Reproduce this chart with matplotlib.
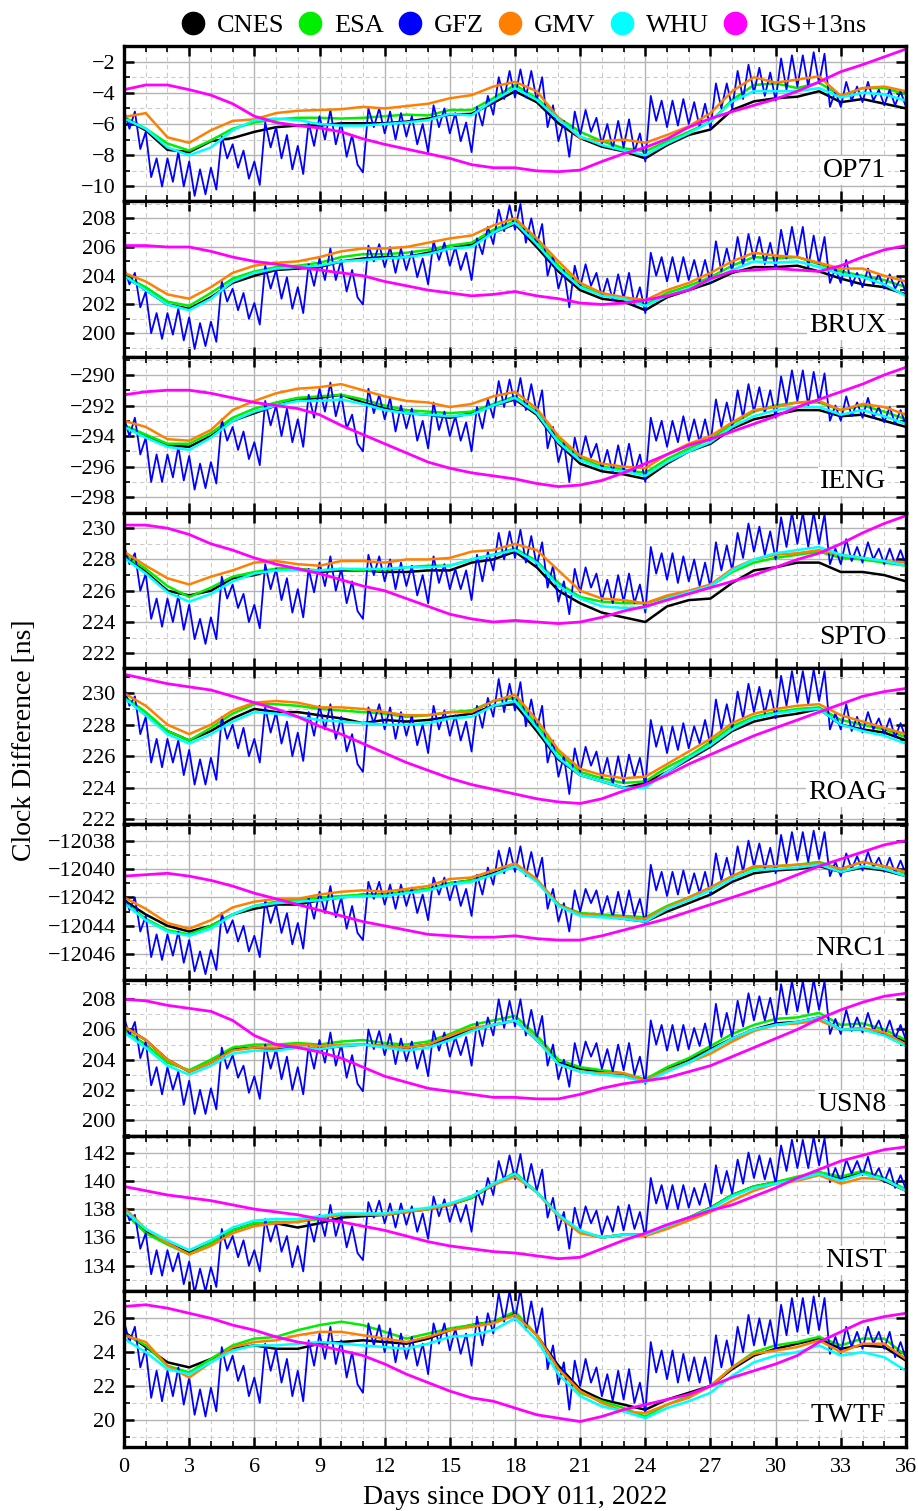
import numpy as np
import matplotlib.pyplot as plt
from matplotlib.ticker import MultipleLocator
from matplotlib.lines import Line2D

plt.rcParams['font.family'] = ['Liberation Serif', 'DejaVu Serif']
plt.rcParams['axes.unicode_minus'] = True

# Daily readings (day 0..36) for the smooth products, 6-hourly readings for GFZ

# ---- OP71 ----
op71_cnes = [-5.65, -6.4, -7.65, -7.8, -7.1, -6.9, -6.5, -6.2, -6.1, -6.1, -5.95, -5.95, -5.95, -5.85, -5.65, -5.4, -5.35, -4.65, -3.9,
             -4.6, -5.95, -6.9, -7.45, -7.75, -8.2, -7.35, -6.7, -6.35, -5.1, -4.55, -4.35, -4.25, -3.9, -4.6, -4.4, -4.7, -5.0]
op71_esa = [-5.55, -6.3, -7.25, -7.7, -7.05, -6.3, -5.9, -5.7, -5.6, -5.6, -5.65, -5.6, -5.5, -5.4, -5.45, -5.1, -5.1, -4.35, -3.5,
            -4.35, -5.6, -6.5, -7.1, -7.55, -7.75, -7.1, -6.5, -5.85, -4.45, -3.5, -3.4, -3.7, -3.35, -4.2, -3.7, -3.7, -4.1]
op71_gmv = [-5.55, -5.3, -6.85, -7.2, -6.4, -5.8, -5.7, -5.3, -5.15, -5.1, -5.05, -4.9, -5.0, -4.85, -4.7, -4.35, -4.15, -3.6, -3.3,
            -3.9, -5.6, -6.9, -7.1, -7.0, -7.2, -6.7, -6.15, -5.3, -3.9, -3.0, -3.35, -3.15, -2.95, -4.2, -3.7, -3.6, -3.9]
op71_whu = [-5.65, -6.3, -7.5, -8.0, -7.5, -6.4, -5.75, -5.65, -5.75, -6.0, -6.1, -6.1, -6.0, -5.9, -5.75, -5.35, -5.45, -4.5, -3.7,
            -4.45, -5.7, -6.8, -7.35, -7.7, -8.0, -7.25, -6.6, -5.85, -4.55, -3.9, -3.9, -3.9, -3.7, -4.3, -4.0, -4.1, -4.5]
op71_igs = [-3.8, -3.5, -3.5, -3.8, -4.15, -4.7, -5.5, -5.9, -6.1, -6.25, -6.5, -6.95, -7.3, -7.6, -7.9, -8.2, -8.6, -8.8, -8.8,
            -9.0, -9.05, -8.95, -8.4, -7.9, -7.5, -6.95, -6.2, -5.65, -5.2, -4.8, -4.4, -3.9, -3.3, -2.65, -2.2, -1.7, -1.2]
op71_gfz = [-5.1, -6.3,
            -5.2, -7.6, -6.5, -9.4, -8.2, -10.0, -8.2, -9.7, -7.8, -10.0, -8.4, -10.6, -8.9, -10.5, -8.8, -10.2,
            -6.8, -8.2, -7.3, -8.8, -7.7, -9.5, -8.4, -9.9, -5.9, -7.5, -6.2, -8.2, -6.7, -8.9, -7.4, -9.2,
            -5.9, -7.4, -5.5, -7.0, -5.1, -7.3, -5.9, -8.1, -6.7, -8.6, -9.1, -5.0, -6.2, -5.0, -6.6, -5.2,
            -7.0, -5.3, -6.8, -5.5, -7.3, -6.0, -7.8, -4.8, -6.2, -5.0, -6.6, -5.3, -7.1, -5.9, -7.8, -4.9,
            -6.1, -4.2, -5.4, -3.0, -4.4, -2.6, -4.3, -2.5, -4.3, -2.6, -4.5, -3.0, -6.2, -4.8, -7.1, -5.8,
            -8.1, -5.2, -6.7, -5.1, -6.5, -5.6, -7.3, -6.0, -7.6, -5.8, -7.5, -5.7, -7.8, -6.6, -8.4, -4.2,
            -5.8, -4.5, -6.2, -4.5, -6.1, -4.4, -6.0, -4.6, -6.2, -4.7, -6.3, -3.4, -5.0, -3.4, -5.0, -2.6,
            -4.4, -2.2, -4.0, -2.4, -4.2, -2.7, -4.5, -1.8, -3.8, -1.6, -3.6, -1.6, -3.6, -1.4, -3.4, -1.5,
            -4.9, -3.9, -4.9, -3.3, -4.5, -3.6, -4.6, -3.3, -4.5, -3.8, -4.8, -3.8, -4.8, -3.9, -4.9]

# ---- BRUX ----
brux_cnes = [204.0, 203.0, 202.0, 201.7, 202.5, 203.5, 204.0, 204.4, 204.5, 204.6, 205.0, 205.2, 205.3, 205.3, 205.6, 205.9, 206.2, 207.0, 207.6,
             206.0, 204.3, 203.0, 202.4, 202.2, 201.6, 202.5, 203.0, 203.5, 204.2, 204.6, 204.6, 204.7, 204.3, 203.8, 203.4, 203.2, 202.7]
brux_esa = [204.0, 203.2, 202.2, 201.9, 202.8, 203.8, 204.3, 204.6, 204.7, 204.9, 205.3, 205.5, 205.5, 205.6, 205.8, 206.1, 206.3, 207.2, 207.8,
            206.4, 204.7, 203.3, 202.7, 202.4, 202.0, 202.8, 203.3, 203.9, 204.7, 205.3, 205.2, 205.3, 204.8, 204.3, 204.0, 203.7, 203.2]
brux_gmv = [204.2, 203.6, 202.7, 202.4, 203.2, 204.2, 204.7, 204.9, 205.0, 205.3, 205.7, 205.9, 205.9, 206.0, 206.3, 206.6, 206.8, 207.5, 208.0,
            206.6, 205.0, 203.5, 202.8, 202.5, 202.3, 203.0, 203.5, 204.2, 205.0, 205.6, 205.4, 205.3, 204.9, 204.5, 204.5, 204.0, 203.6]
brux_whu = [204.0, 203.0, 202.0, 201.6, 202.4, 203.6, 204.2, 204.5, 204.6, 204.7, 205.0, 205.1, 205.2, 205.3, 205.5, 205.9, 206.0, 207.0, 207.7,
            206.2, 204.5, 203.2, 202.6, 202.4, 201.9, 202.6, 203.1, 203.7, 204.4, 205.0, 204.9, 205.0, 204.6, 204.1, 203.9, 203.4, 202.6]
brux_igs = [206.1, 206.1, 206.0, 206.0, 205.7, 205.3, 205.0, 204.8, 204.6, 204.4, 204.2, 204.0, 203.6, 203.3, 203.0, 202.8, 202.6, 202.7, 202.9,
            202.6, 202.4, 202.1, 202.0, 202.1, 202.3, 202.6, 203.0, 203.8, 204.3, 204.4, 204.5, 204.4, 204.3, 204.7, 205.3, 205.8, 206.1]
brux_gfz = [204.6, 203.4,
            204.2, 201.8, 202.9, 200.0, 201.4, 199.6, 201.4, 199.9, 201.7, 199.5, 201.1, 198.9, 200.7, 199.1, 200.8, 199.4,
            203.6, 202.2, 203.1, 201.6, 202.8, 201.0, 202.1, 200.6, 204.7, 203.1, 204.4, 202.4, 203.9, 201.7, 203.2, 201.4,
            204.8, 203.3, 205.2, 203.7, 205.9, 203.7, 205.1, 202.9, 204.4, 202.5, 202.0, 206.1, 205.0, 206.2, 204.6, 206.0,
            204.2, 205.9, 204.4, 205.7, 203.9, 205.2, 203.4, 206.4, 205.1, 206.3, 204.7, 206.0, 204.4, 205.6, 203.7, 206.6,
            205.5, 207.4, 206.2, 208.6, 207.1, 208.9, 207.2, 209.0, 206.3, 208.0, 206.1, 207.6, 204.0, 205.4, 203.1, 204.4,
            201.8, 204.7, 203.2, 204.8, 203.3, 204.2, 202.5, 203.8, 202.3, 204.1, 202.4, 204.2, 202.0, 203.2, 201.4, 205.6,
            204.0, 205.3, 203.6, 205.3, 203.6, 205.3, 203.7, 205.1, 203.6, 205.1, 203.5, 206.4, 204.3, 205.9, 204.3, 206.7,
            204.7, 206.9, 205.1, 206.7, 204.8, 206.3, 204.5, 207.2, 205.2, 207.4, 205.4, 207.4, 204.6, 206.8, 204.8, 206.7,
            203.5, 204.5, 203.5, 205.1, 203.3, 204.2, 203.2, 204.5, 203.4, 204.1, 203.1, 204.1, 203.1, 203.8, 202.8]

# ---- IENG ----
ieng_cnes = [-293.3, -294.0, -294.6, -294.7, -294.0, -293.0, -292.5, -292.0, -291.6, -291.5, -291.3, -291.8, -292.2, -292.5, -292.6, -292.8, -292.5,
             -292.0, -291.6, -292.6, -294.5, -295.8, -296.3, -296.5, -296.8, -295.8, -295.0, -294.5, -293.5, -292.9, -292.6, -292.3, -292.3,
             -292.7, -292.6, -293.0, -293.4]
ieng_esa = [-293.3, -293.9, -294.5, -294.5, -293.8, -292.8, -292.2, -291.8, -291.5, -291.4, -291.3, -291.6, -292.0, -292.3, -292.4, -292.5, -292.4,
            -291.9, -291.4, -292.4, -294.2, -295.4, -296.0, -296.2, -296.4, -295.5, -294.8, -294.2, -293.2, -292.4, -292.0, -291.8, -291.8,
            -292.3, -292.0, -292.4, -292.9]
ieng_gmv = [-293.0, -293.4, -294.2, -294.3, -293.6, -292.3, -291.7, -291.2, -290.9, -290.8, -290.6, -291.0, -291.4, -291.7, -291.8, -292.1, -291.9,
            -291.4, -291.1, -292.2, -294.0, -295.3, -295.8, -296.0, -296.1, -295.2, -294.5, -294.0, -293.1, -292.3, -292.1, -291.8, -291.7,
            -292.3, -291.9, -292.1, -292.6]
ieng_whu = [-293.4, -294.1, -294.7, -294.9, -294.1, -293.0, -292.4, -292.0, -291.7, -291.7, -291.6, -291.9, -292.3, -292.5, -292.6, -292.7, -292.6,
            -292.0, -291.5, -292.5, -294.4, -295.6, -296.1, -296.3, -296.6, -295.7, -295.0, -294.4, -293.4, -292.7, -292.3, -292.1, -292.1,
            -292.6, -292.3, -292.7, -293.2]
ieng_igs = [-291.3, -291.1, -291.0, -291.0, -291.2, -291.5, -291.8, -292.0, -292.2, -292.6, -293.3, -293.9, -294.5, -295.1, -295.7, -296.1, -296.4,
            -296.6, -296.8, -297.1, -297.3, -297.2, -296.9, -296.4, -295.8, -295.2, -294.6, -294.2, -293.7, -293.2, -292.7, -292.1, -291.6,
            -291.1, -290.6, -290.0, -289.5]
ieng_gfz = [-292.8, -294.0,
            -292.8, -295.2, -294.1, -297.0, -295.2, -297.0, -295.2, -296.7, -294.7, -296.9, -295.3, -297.5, -295.8, -297.4, -295.7, -297.1,
            -292.9, -294.3, -293.4, -294.9, -293.7, -295.5, -294.4, -295.9, -291.7, -293.3, -292.0, -294.0, -292.2, -294.4, -292.9, -294.7,
            -291.3, -292.8, -290.9, -292.4, -290.5, -292.7, -291.3, -293.5, -292.6, -294.5, -295.0, -290.9, -292.5, -291.3, -292.9, -291.5,
            -293.7, -292.0, -293.5, -292.2, -294.3, -293.0, -294.8, -291.8, -293.6, -292.4, -294.0, -292.7, -294.3, -293.1, -295.0, -292.1,
            -293.5, -291.6, -292.8, -290.4, -292.1, -290.3, -292.0, -290.2, -292.3, -290.6, -292.5, -291.0, -294.8, -293.4, -295.7, -294.4,
            -297.0, -294.1, -295.6, -294.0, -295.4, -294.5, -296.2, -294.9, -296.4, -294.6, -296.3, -294.5, -296.4, -295.2, -297.0, -292.8,
            -294.3, -293.0, -294.7, -293.0, -294.4, -292.7, -294.3, -292.9, -294.4, -292.9, -294.5, -291.6, -293.4, -291.8, -293.4, -291.0,
            -292.8, -290.6, -292.4, -290.8, -292.5, -291.0, -292.8, -290.1, -291.9, -289.7, -291.7, -289.7, -292.0, -289.8, -291.8, -289.9,
            -293.0, -292.0, -293.0, -291.4, -292.7, -291.8, -292.8, -291.5, -292.8, -292.1, -293.1, -292.1, -293.2, -292.3, -293.3]

# ---- SPTO ----
spto_cnes = [228.3, 227.2, 226.0, 225.7, 226.0, 226.8, 227.0, 227.4, 227.4, 227.2, 227.3, 227.3, 227.2, 227.2, 227.3, 227.3, 227.8, 228.0, 228.5,
             227.5, 226.0, 225.2, 224.6, 224.3, 224.0, 225.0, 225.4, 225.5, 226.5, 227.3, 227.5, 227.8, 227.8, 227.2, 227.2, 227.0, 226.6]
spto_esa = [228.3, 227.4, 226.3, 225.6, 226.2, 226.9, 227.2, 227.4, 227.4, 227.3, 227.4, 227.3, 227.3, 227.5, 227.6, 227.6, 228.0, 228.3, 228.7,
            227.9, 226.5, 225.6, 225.3, 225.2, 225.2, 225.6, 225.9, 226.3, 227.2, 227.8, 228.1, 228.3, 228.5, 228.1, 228.0, 227.8, 227.6]
spto_gmv = [228.5, 227.6, 226.8, 226.4, 226.9, 227.3, 227.8, 227.9, 227.7, 227.6, 227.9, 227.9, 227.8, 228.0, 228.0, 228.1, 228.5, 228.6, 229.0,
            228.6, 227.3, 226.0, 225.5, 225.4, 225.2, 225.7, 226.0, 226.4, 227.4, 228.0, 228.3, 228.4, 228.6, 228.3, 228.1, 227.9, 227.8]
spto_whu = [228.1, 227.1, 225.9, 225.3, 225.8, 226.6, 227.1, 227.3, 227.3, 227.3, 227.4, 227.4, 227.4, 227.5, 227.5, 227.6, 228.0, 228.3, 228.6,
            227.8, 226.3, 225.5, 225.0, 224.9, 224.9, 225.5, 225.9, 226.3, 227.3, 228.0, 228.4, 228.6, 228.8, 228.3, 228.1, 227.9, 227.6]
spto_igs = [230.2, 230.2, 230.0, 229.6, 229.0, 228.6, 228.1, 227.7, 227.4, 227.1, 226.7, 226.3, 226.0, 225.5, 225.0, 224.5, 224.2, 224.0, 224.1,
            224.0, 223.9, 224.0, 224.3, 224.7, 225.0, 225.4, 225.8, 226.2, 226.6, 227.0, 227.5, 228.0, 228.4, 229.0, 229.7, 230.3, 230.8]
spto_gfz = [228.9, 227.7,
            228.4, 226.0, 227.1, 224.2, 225.5, 223.7, 225.5, 224.0, 225.7, 223.5, 225.1, 222.9, 224.2, 222.6, 224.3, 222.9,
            226.9, 225.5, 226.4, 224.9, 225.8, 224.0, 225.1, 223.6, 227.7, 226.1, 227.4, 225.4, 226.8, 224.6, 226.1, 224.3,
            227.4, 225.9, 227.8, 226.3, 228.2, 226.0, 227.4, 225.2, 226.6, 224.7, 224.2, 228.3, 227.0, 228.2, 226.6, 228.0,
            226.1, 227.8, 226.3, 227.6, 225.7, 227.0, 225.2, 228.2, 226.5, 227.7, 226.1, 227.4, 226.1, 227.3, 225.4, 228.3,
            226.6, 228.5, 227.3, 229.7, 228.0, 229.8, 228.1, 229.9, 227.8, 229.5, 227.6, 229.1, 226.2, 227.6, 225.3, 226.6,
            224.5, 227.4, 225.9, 227.5, 226.2, 227.1, 225.4, 226.7, 225.2, 227.0, 225.3, 227.1, 225.2, 226.4, 224.6, 228.8,
            227.1, 228.4, 226.7, 228.4, 226.5, 228.2, 226.6, 228.0, 226.3, 227.8, 226.2, 229.1, 227.3, 228.9, 227.3, 229.7,
            228.1, 230.3, 228.5, 230.1, 228.3, 229.8, 228.0, 230.7, 228.8, 231.0, 229.0, 231.0, 228.8, 231.0, 229.0, 230.9,
            227.7, 228.7, 227.7, 229.3, 227.9, 228.8, 227.8, 229.1, 228.0, 228.7, 227.7, 228.7, 227.7, 228.6, 227.6]

# ---- ROAG ----
roag_cnes = [229.8, 228.6, 227.6, 227.0, 227.6, 228.4, 229.0, 228.8, 228.8, 228.6, 228.4, 228.1, 228.3, 228.2, 228.3, 228.5, 228.7, 229.2, 229.3,
             227.6, 225.8, 224.8, 224.4, 224.0, 224.3, 225.0, 225.8, 226.6, 227.6, 228.2, 228.5, 228.7, 229.0, 228.0, 227.7, 227.5, 227.0]
roag_esa = [229.8, 228.8, 227.6, 227.0, 227.8, 228.7, 229.3, 229.3, 229.2, 229.0, 228.9, 228.8, 228.7, 228.5, 228.6, 228.8, 228.9, 229.5, 229.7,
            228.0, 226.2, 225.0, 224.6, 224.3, 224.4, 225.3, 226.0, 226.9, 227.9, 228.5, 228.8, 229.0, 229.1, 228.3, 228.0, 227.7, 227.2]
roag_gmv = [230.0, 229.2, 228.0, 227.4, 228.0, 228.9, 229.4, 229.5, 229.4, 229.1, 229.1, 229.0, 228.8, 228.6, 228.6, 228.8, 228.8, 229.5, 229.9,
            228.3, 226.4, 225.2, 224.8, 224.6, 224.7, 225.5, 226.3, 227.1, 228.1, 228.7, 229.0, 229.2, 229.3, 228.6, 228.2, 227.8, 227.4]
roag_whu = [229.7, 228.6, 227.4, 226.8, 227.4, 228.2, 228.8, 228.7, 228.5, 228.3, 228.2, 228.1, 228.0, 228.0, 228.1, 228.4, 228.5, 229.2, 229.5,
            227.8, 225.9, 224.8, 224.4, 224.0, 224.0, 225.0, 225.9, 226.7, 227.7, 228.4, 228.7, 228.9, 229.0, 228.0, 227.6, 227.3, 226.8]
roag_igs = [231.2, 230.9, 230.6, 230.4, 230.2, 229.8, 229.4, 229.0, 228.5, 227.9, 227.4, 226.8, 226.2, 225.6, 225.1, 224.6, 224.2, 223.9, 223.6,
            223.3, 223.1, 223.0, 223.3, 223.8, 224.2, 224.8, 225.5, 226.1, 226.7, 227.3, 227.8, 228.3, 228.8, 229.3, 229.8, 230.1, 230.3]
roag_gfz = [230.4, 229.2,
            229.8, 227.4, 228.5, 225.6, 227.1, 225.3, 227.1, 225.6, 227.0, 224.8, 226.4, 224.2, 225.8, 224.2, 225.9, 224.5,
            228.5, 227.1, 228.0, 226.5, 227.8, 226.0, 227.1, 225.6, 229.1, 227.5, 228.8, 226.8, 228.2, 226.0, 227.5, 225.7,
            228.8, 227.3, 229.2, 227.7, 229.3, 227.1, 228.5, 226.3, 227.4, 225.5, 225.0, 229.1, 228.1, 229.3, 227.7, 229.1,
            227.1, 228.8, 227.3, 228.6, 226.7, 228.0, 226.2, 229.2, 227.7, 228.9, 227.3, 228.6, 227.0, 228.2, 226.3, 229.2,
            227.8, 229.7, 228.5, 230.9, 228.8, 230.6, 228.9, 230.7, 227.9, 229.6, 227.7, 229.2, 225.6, 227.0, 224.7, 226.0,
            223.6, 226.5, 225.0, 226.6, 225.4, 226.3, 224.6, 225.9, 224.2, 226.0, 224.3, 226.1, 224.7, 225.9, 224.1, 228.3,
            226.6, 227.9, 226.2, 227.9, 226.4, 228.1, 226.5, 227.9, 226.8, 228.3, 226.7, 229.6, 227.7, 229.3, 227.7, 230.1,
            228.4, 230.6, 228.8, 230.4, 228.7, 230.2, 228.4, 231.1, 229.2, 231.4, 229.4, 231.4, 229.3, 231.5, 229.5, 231.4,
            227.7, 228.7, 227.7, 229.3, 227.6, 228.5, 227.5, 228.8, 227.7, 228.4, 227.4, 228.4, 227.2, 228.1, 227.1]

# ---- NRC1 ----
nrc1_cnes = [-12042.2, -12043.2, -12044.0, -12044.4, -12044.0, -12043.2, -12042.8, -12042.5, -12042.5, -12042.2, -12042.0, -12041.8, -12041.8,
             -12041.6, -12041.4, -12041.0, -12040.8, -12040.3, -12039.8, -12040.8, -12042.5, -12043.2, -12043.3, -12043.5, -12043.7, -12043.0,
             -12042.4, -12041.8, -12040.9, -12040.3, -12040.1, -12040.0, -12039.8, -12040.2, -12039.9, -12040.1, -12040.5]
nrc1_esa = [-12042.3, -12043.5, -12044.3, -12044.6, -12044.0, -12043.2, -12042.6, -12042.3, -12042.2, -12042.0, -12041.9, -12041.8, -12041.8,
            -12041.6, -12041.4, -12041.0, -12040.8, -12040.4, -12039.8, -12040.8, -12042.5, -12043.1, -12043.2, -12043.3, -12043.4, -12042.6,
            -12042.0, -12041.3, -12040.5, -12039.9, -12039.8, -12039.7, -12039.5, -12040.0, -12039.5, -12039.8, -12040.3]
nrc1_gmv = [-12042.0, -12042.8, -12043.8, -12044.2, -12043.6, -12042.7, -12042.3, -12042.1, -12042.1, -12041.8, -12041.6, -12041.5, -12041.6,
            -12041.4, -12041.2, -12040.7, -12040.6, -12040.1, -12039.6, -12040.7, -12042.5, -12043.2, -12043.3, -12043.4, -12043.5, -12042.7,
            -12042.0, -12041.3, -12040.5, -12039.8, -12039.8, -12039.7, -12039.6, -12040.0, -12039.5, -12039.8, -12040.2]
nrc1_whu = [-12042.4, -12043.6, -12044.4, -12044.7, -12044.2, -12043.2, -12042.6, -12042.4, -12042.3, -12042.2, -12042.0, -12041.9, -12041.9,
            -12041.7, -12041.5, -12041.1, -12040.9, -12040.4, -12039.8, -12040.9, -12042.6, -12043.3, -12043.4, -12043.5, -12043.7, -12042.8,
            -12042.2, -12041.5, -12040.7, -12040.1, -12040.0, -12039.9, -12039.7, -12040.2, -12039.8, -12040.0, -12040.5]
nrc1_igs = [-12040.5, -12040.4, -12040.3, -12040.5, -12040.8, -12041.2, -12041.7, -12042.1, -12042.5, -12042.9, -12043.3, -12043.7, -12044.0,
            -12044.3, -12044.6, -12044.7, -12044.8, -12044.8, -12044.7, -12044.9, -12045.0, -12045.0, -12044.7, -12044.3, -12043.9, -12043.5,
            -12043.0, -12042.5, -12042.0, -12041.5, -12041.0, -12040.4, -12039.8, -12039.3, -12038.8, -12038.3, -12038.0]
nrc1_gfz = [-12041.7, -12042.9,
            -12042.0, -12044.4, -12043.3, -12046.2, -12044.6, -12046.4, -12044.6, -12046.1, -12044.4, -12046.6, -12045.0, -12047.2,
            -12045.8, -12047.4, -12045.7, -12047.1, -12043.1, -12044.5, -12043.6, -12045.1, -12044.0, -12045.8, -12044.7, -12046.2,
            -12042.2, -12043.8, -12042.5, -12044.5, -12043.1, -12045.3, -12043.8, -12045.6, -12042.0, -12043.5, -12041.6, -12043.1,
            -12041.2, -12043.4, -12042.0, -12044.2, -12042.6, -12044.5, -12045.0, -12040.9, -12042.1, -12040.9, -12042.5, -12041.1,
            -12042.8, -12041.1, -12042.6, -12041.3, -12043.1, -12041.8, -12043.6, -12040.6, -12041.8, -12040.6, -12042.2, -12040.9,
            -12042.6, -12041.4, -12043.3, -12040.4, -12041.8, -12039.9, -12041.1, -12038.7, -12040.3, -12038.5, -12040.2, -12038.4,
            -12040.5, -12038.8, -12040.7, -12039.2, -12042.8, -12041.4, -12043.7, -12042.4, -12044.4, -12041.5, -12043.0, -12041.4,
            -12042.4, -12041.5, -12043.2, -12041.9, -12043.4, -12041.6, -12043.3, -12041.5, -12043.3, -12042.1, -12043.9, -12039.7,
            -12041.5, -12040.2, -12041.9, -12040.2, -12041.8, -12040.1, -12041.7, -12040.3, -12041.7, -12040.2, -12041.8, -12038.9,
            -12040.8, -12039.2, -12040.8, -12038.4, -12040.2, -12038.0, -12039.8, -12038.2, -12040.0, -12038.5, -12040.3, -12037.6,
            -12039.6, -12037.4, -12039.4, -12037.4, -12039.5, -12037.3, -12039.3, -12037.4, -12040.5, -12039.5, -12040.5, -12038.9,
            -12040.0, -12039.1, -12040.1, -12038.8, -12039.9, -12039.2, -12040.2, -12039.2, -12040.3, -12039.4, -12040.4]

# ---- USN8 ----
usn8_cnes = [206.2, 205.3, 204.0, 203.2, 203.8, 204.7, 204.8, 204.7, 204.8, 204.7, 204.9, 205.0, 204.9, 204.8, 205.0, 205.4, 206.0, 206.3, 206.6,
             205.3, 203.8, 203.4, 203.2, 203.0, 202.6, 203.4, 204.0, 204.7, 205.4, 206.0, 206.4, 206.5, 206.8, 206.0, 206.0, 205.7, 205.2]
usn8_esa = [206.0, 205.0, 203.8, 203.3, 204.0, 204.8, 205.0, 205.0, 205.1, 205.0, 205.2, 205.3, 205.1, 205.0, 205.2, 205.7, 206.3, 206.6, 206.9,
            205.6, 204.0, 203.5, 203.3, 203.1, 202.7, 203.5, 204.1, 204.9, 205.7, 206.3, 206.7, 206.8, 207.1, 206.3, 206.4, 206.0, 205.3]
usn8_gmv = [206.2, 205.3, 204.0, 203.2, 203.8, 204.6, 204.8, 204.8, 205.0, 204.9, 205.0, 205.0, 204.9, 204.8, 205.0, 205.6, 206.1, 206.3, 206.6,
            205.4, 203.7, 203.2, 203.1, 203.1, 202.6, 203.3, 203.8, 204.4, 205.2, 205.9, 206.3, 206.4, 206.6, 206.0, 206.1, 205.8, 205.0]
usn8_whu = [205.8, 204.8, 203.6, 203.0, 203.6, 204.4, 204.6, 204.6, 204.8, 204.7, 204.9, 205.0, 204.8, 204.6, 204.8, 205.3, 205.9, 206.3, 206.6,
            205.3, 203.7, 203.2, 203.0, 202.9, 202.5, 203.2, 203.8, 204.6, 205.4, 206.0, 206.3, 206.5, 206.8, 206.0, 206.0, 205.6, 204.9]
usn8_igs = [208.0, 207.9, 207.6, 207.4, 207.2, 206.6, 205.6, 205.0, 204.8, 204.5, 204.1, 203.5, 202.9, 202.5, 202.1, 201.9, 201.7, 201.5, 201.5,
            201.4, 201.4, 201.7, 202.1, 202.4, 202.6, 202.8, 203.2, 203.6, 204.2, 204.8, 205.4, 206.0, 206.7, 207.3, 207.8, 208.2, 208.4]
usn8_gfz = [206.8, 205.6,
            206.5, 204.1, 205.2, 202.3, 203.5, 201.7, 203.5, 202.0, 203.2, 201.0, 202.6, 200.4, 202.0, 200.4, 202.1, 200.7,
            204.8, 203.4, 204.3, 202.8, 203.6, 201.8, 202.9, 201.4, 205.0, 203.4, 204.7, 202.7, 204.2, 202.0, 203.5, 201.7,
            204.9, 203.4, 205.3, 203.8, 205.8, 203.6, 205.0, 202.8, 204.3, 202.4, 201.9, 206.0, 204.7, 205.9, 204.3, 205.7,
            203.7, 205.4, 203.9, 205.2, 203.4, 204.7, 202.9, 205.9, 204.6, 205.8, 204.2, 205.5, 204.3, 205.5, 203.6, 206.5,
            204.9, 206.8, 205.6, 208.0, 206.1, 207.9, 206.2, 208.0, 205.6, 207.3, 205.4, 206.9, 203.6, 205.0, 202.7, 204.0,
            202.2, 205.1, 203.6, 205.2, 204.2, 205.1, 203.4, 204.7, 203.2, 205.0, 203.3, 205.1, 203.0, 204.2, 202.4, 206.6,
            205.0, 206.3, 204.6, 206.3, 204.6, 206.3, 204.7, 206.1, 204.9, 206.4, 204.8, 207.7, 205.5, 207.1, 205.5, 207.9,
            206.2, 208.4, 206.6, 208.2, 206.6, 208.1, 206.3, 209.0, 207.0, 209.2, 207.2, 209.2, 207.1, 209.3, 207.3, 209.2,
            205.7, 206.7, 205.7, 207.3, 205.9, 206.8, 205.8, 207.1, 205.9, 206.6, 205.6, 206.6, 205.4, 206.3, 205.3]

# ---- NIST ----
nist_cnes = [137.8, 136.4, 135.6, 134.9, 135.6, 136.5, 137.0, 137.0, 136.7, 137.0, 137.4, 137.5, 137.6, 137.8, 138.0, 138.3, 138.8, 139.7, 140.5,
             139.2, 137.6, 136.4, 136.0, 136.2, 136.2, 136.8, 137.4, 138.1, 139.0, 139.6, 139.9, 140.2, 140.6, 140.2, 140.6, 140.0, 139.3]
nist_esa = [137.8, 136.3, 135.5, 134.8, 135.6, 136.5, 137.0, 137.1, 137.1, 137.3, 137.6, 137.6, 137.6, 137.8, 138.0, 138.3, 138.8, 139.7, 140.6,
            139.2, 137.6, 136.4, 136.0, 136.2, 136.2, 136.8, 137.4, 138.1, 139.0, 139.6, 139.9, 140.3, 140.6, 140.3, 140.7, 140.2, 139.4]
nist_gmv = [138.1, 136.6, 135.6, 134.8, 135.4, 136.3, 136.8, 137.0, 137.1, 137.4, 137.6, 137.6, 137.6, 137.8, 138.0, 138.3, 138.9, 139.7, 140.3,
            139.2, 137.5, 136.3, 136.0, 136.2, 136.1, 136.6, 137.2, 137.8, 138.6, 139.3, 139.8, 140.0, 140.4, 139.8, 140.2, 140.1, 139.3]
nist_whu = [137.9, 136.6, 135.8, 135.1, 135.8, 136.7, 137.2, 137.3, 137.3, 137.5, 137.7, 137.7, 137.7, 137.9, 138.1, 138.4, 138.9, 139.8, 140.5,
            139.2, 137.6, 136.5, 136.0, 136.2, 136.2, 136.8, 137.4, 138.0, 138.9, 139.5, 139.8, 140.1, 140.5, 140.0, 140.5, 140.1, 139.3]
nist_igs = [139.6, 139.3, 139.0, 138.8, 138.6, 138.3, 138.0, 137.8, 137.6, 137.3, 137.1, 136.8, 136.5, 136.1, 135.7, 135.4, 135.2, 135.0, 134.9,
            134.7, 134.5, 134.6, 135.2, 135.8, 136.3, 136.9, 137.4, 137.9, 138.3, 138.9, 139.5, 140.2, 140.8, 141.4, 141.8, 142.2, 142.4]
nist_gfz = [138.4, 137.2,
            137.6, 135.2, 136.3, 133.4, 135.1, 133.3, 135.1, 133.6, 134.9, 132.7, 134.3, 132.1, 133.8, 132.2, 133.9, 132.5,
            136.6, 135.2, 136.1, 134.6, 135.8, 134.0, 135.1, 133.6, 137.3, 135.7, 137.0, 135.0, 136.1, 133.9, 135.4, 133.6,
            137.2, 135.7, 137.6, 136.1, 138.3, 136.1, 137.5, 135.3, 136.8, 134.9, 134.4, 138.5, 137.4, 138.6, 137.0, 138.4,
            136.7, 138.4, 136.9, 138.2, 136.4, 137.7, 135.9, 138.9, 137.5, 138.7, 137.1, 138.4, 137.1, 138.3, 136.4, 139.3,
            138.3, 140.2, 139.0, 141.4, 140.0, 141.8, 140.1, 141.9, 139.5, 141.2, 139.3, 140.8, 137.4, 138.8, 136.5, 137.8,
            135.2, 138.1, 136.6, 138.2, 137.0, 137.9, 136.2, 137.5, 136.4, 138.2, 136.5, 138.3, 136.6, 137.8, 136.0, 140.2,
            138.4, 139.7, 138.0, 139.7, 138.0, 139.7, 138.1, 139.5, 138.3, 139.8, 138.2, 141.1, 139.1, 140.7, 139.1, 141.5,
            139.8, 142.0, 140.2, 141.8, 140.1, 141.6, 139.8, 142.5, 140.7, 142.9, 140.9, 142.9, 140.9, 143.1, 141.1, 143.0,
            139.9, 140.9, 139.9, 141.5, 140.5, 141.4, 140.4, 141.7, 140.2, 140.9, 139.9, 140.9, 139.5, 140.4, 139.4]

# ---- TWTF ----
twtf_cnes = [25.2, 24.3, 23.4, 23.1, 23.6, 24.2, 24.4, 24.2, 24.2, 24.5, 24.6, 24.7, 24.6, 24.5, 24.8, 25.3, 25.6, 25.8, 26.3,
             25.0, 23.2, 21.8, 21.2, 20.9, 20.6, 21.2, 21.6, 22.0, 23.0, 23.8, 24.2, 24.5, 24.8, 24.2, 24.4, 24.3, 23.5]
twtf_esa = [25.1, 24.4, 23.2, 22.8, 23.6, 24.4, 24.8, 24.9, 25.3, 25.6, 25.8, 25.6, 25.2, 24.8, 25.1, 25.4, 25.6, 25.8, 26.4,
            25.0, 23.0, 21.6, 21.1, 20.7, 20.2, 20.9, 21.4, 22.0, 23.1, 24.0, 24.4, 24.6, 24.9, 24.4, 24.8, 24.8, 23.8]
twtf_gmv = [25.0, 24.6, 23.2, 22.5, 23.4, 24.3, 24.6, 24.7, 25.0, 25.2, 25.2, 25.0, 24.8, 24.6, 24.9, 25.3, 25.5, 25.7, 26.2,
            25.0, 23.0, 21.7, 21.0, 20.5, 20.4, 20.9, 21.3, 22.0, 23.1, 23.9, 24.1, 24.3, 24.7, 24.0, 24.5, 24.5, 23.6]
twtf_whu = [24.8, 24.0, 23.0, 22.7, 23.4, 24.1, 24.4, 24.4, 24.5, 24.6, 24.5, 24.4, 24.3, 24.2, 24.5, 24.9, 25.0, 25.3, 26.0,
            24.7, 22.7, 21.4, 20.8, 20.5, 20.1, 20.7, 21.1, 21.6, 22.6, 23.4, 23.8, 24.0, 24.4, 23.8, 24.0, 23.7, 22.9]
twtf_igs = [26.7, 26.8, 26.6, 26.3, 26.0, 25.6, 25.3, 24.9, 24.6, 24.4, 24.1, 23.8, 23.3, 22.7, 22.2, 21.7, 21.3, 21.1, 20.7,
            20.3, 20.1, 19.9, 20.2, 20.6, 20.9, 21.2, 21.5, 22.0, 22.5, 22.9, 23.3, 23.8, 24.6, 25.2, 25.8, 26.1, 26.3]
twtf_gfz = [25.8, 24.6,
            25.5, 23.1, 24.2, 21.3, 22.9, 21.1, 22.9, 21.4, 23.1, 20.9, 22.5, 20.3, 21.8, 20.2, 21.9, 20.5,
            24.3, 22.9, 23.8, 22.3, 23.2, 21.4, 22.5, 21.0, 24.5, 22.9, 24.2, 22.2, 23.6, 21.4, 22.9, 21.1,
            24.7, 23.2, 25.1, 23.6, 25.5, 23.3, 24.7, 22.5, 24.0, 22.1, 21.6, 25.7, 24.4, 25.6, 24.0, 25.4,
            23.4, 25.1, 23.6, 24.9, 23.2, 24.5, 22.7, 25.7, 24.5, 25.7, 24.1, 25.4, 23.9, 25.1, 23.2, 26.1,
            24.4, 26.3, 25.1, 27.5, 25.8, 27.6, 25.9, 27.7, 25.3, 27.0, 25.1, 26.6, 23.0, 24.4, 22.1, 23.4,
            20.6, 23.5, 22.0, 23.6, 22.2, 23.1, 21.4, 22.7, 21.1, 22.9, 21.2, 23.0, 21.0, 22.2, 20.4, 24.6,
            22.8, 24.1, 22.4, 24.1, 22.2, 23.9, 22.3, 23.7, 22.2, 23.7, 22.1, 25.0, 23.1, 24.7, 23.1, 25.5,
            24.0, 26.2, 24.4, 26.0, 24.4, 25.9, 24.1, 26.8, 25.0, 27.2, 25.2, 27.2, 25.1, 27.3, 25.3, 27.2,
            23.9, 24.9, 23.9, 25.5, 24.3, 25.2, 24.2, 25.5, 24.5, 25.2, 24.2, 25.2, 23.7, 24.6, 23.6]

station_names = ['OP71', 'BRUX', 'IENG', 'SPTO', 'ROAG', 'NRC1', 'USN8', 'NIST', 'TWTF']
products = ['CNES', 'ESA', 'GFZ', 'GMV', 'WHU', 'IGS+13ns']
colors = ['black', '#00ee00', '#0000ff', '#ff8000', '#00ffff', '#ff00ff']

series = [
    (op71_cnes, op71_esa, op71_gfz, op71_gmv, op71_whu, op71_igs),
    (brux_cnes, brux_esa, brux_gfz, brux_gmv, brux_whu, brux_igs),
    (ieng_cnes, ieng_esa, ieng_gfz, ieng_gmv, ieng_whu, ieng_igs),
    (spto_cnes, spto_esa, spto_gfz, spto_gmv, spto_whu, spto_igs),
    (roag_cnes, roag_esa, roag_gfz, roag_gmv, roag_whu, roag_igs),
    (nrc1_cnes, nrc1_esa, nrc1_gfz, nrc1_gmv, nrc1_whu, nrc1_igs),
    (usn8_cnes, usn8_esa, usn8_gfz, usn8_gmv, usn8_whu, usn8_igs),
    (nist_cnes, nist_esa, nist_gfz, nist_gmv, nist_whu, nist_igs),
    (twtf_cnes, twtf_esa, twtf_gfz, twtf_gmv, twtf_whu, twtf_igs),
]

# y range and labelled ticks of each panel
ylims = [(-10.95, -0.98), (198.34, 209.18), (-299.01, -288.83), (221.03, 230.99), (221.69, 231.57),
         (-12047.8, -12036.84), (198.97, 209.29), (132.2, 143.2), (18.4, 27.6)]
ytick_sets = [[-10, -8, -6, -4, -2], [200, 202, 204, 206, 208], [-298, -296, -294, -292, -290],
              [222, 224, 226, 228, 230], [222, 224, 226, 228, 230], [-12046, -12044, -12042, -12040, -12038],
              [200, 202, 204, 206, 208], [134, 136, 138, 140, 142], [20, 22, 24, 26]]

fig = plt.figure(figsize=(9.18, 15.11), dpi=100)
gs = fig.add_gridspec(9, 1, left=0.1351, right=0.9869, top=0.9698, bottom=0.0424, hspace=0)

for i, name in enumerate(station_names):
    ax = fig.add_subplot(gs[i])
    for k, vals in enumerate(series[i]):
        if products[k] == 'GFZ':
            x = np.arange(len(vals)) * 0.25
            lw = 1.3
        else:
            x = np.arange(len(vals))
            lw = 2.0 if k == 5 else 1.8
        ax.plot(x, vals, color=colors[k], lw=lw)

    ax.set_xlim(0, 36)
    ax.set_ylim(*ylims[i])
    ax.set_yticks(ytick_sets[i])
    ax.xaxis.set_major_locator(MultipleLocator(3))
    ax.xaxis.set_minor_locator(MultipleLocator(1))
    ax.yaxis.set_minor_locator(MultipleLocator(1))
    ax.grid(which='major', color='#b4b4b4', lw=1.0, ls='-')
    ax.grid(which='minor', color='#cccccc', lw=0.8, ls=(0, (4, 3)))
    ax.set_axisbelow(True)
    ax.tick_params(which='both', direction='in', top=True, right=True)
    ax.tick_params(which='major', length=7, width=1.8, labelsize=16, pad=6)
    ax.tick_params(which='minor', length=4, width=1.2)
    for s in ax.spines.values():
        s.set_linewidth(2.4)
    if i < len(station_names) - 1:
        ax.tick_params(labelbottom=False)
    else:
        ax.tick_params(axis='x', pad=8)
        ax.set_xlabel('Days since DOY 011, 2022', fontsize=20, labelpad=6)

    ax.text(0.975, 0.2, name, transform=ax.transAxes, ha='right', va='center',
            fontsize=20, zorder=5,
            bbox=dict(facecolor='white', edgecolor='none', pad=1.5))

fig.text(0.027, 0.51, 'Clock Difference [ns]', rotation=90, ha='center', va='center', fontsize=20)

handles = [Line2D([], [], marker='o', ls='none', ms=16, color=c) for c in colors]
fig.legend(handles, products, loc='center', bbox_to_anchor=(0.571, 0.983), ncol=6, frameon=False,
           fontsize=19, handlelength=0.8, handletextpad=0.5, columnspacing=0.6)

fig.savefig('out.png', dpi=100)
